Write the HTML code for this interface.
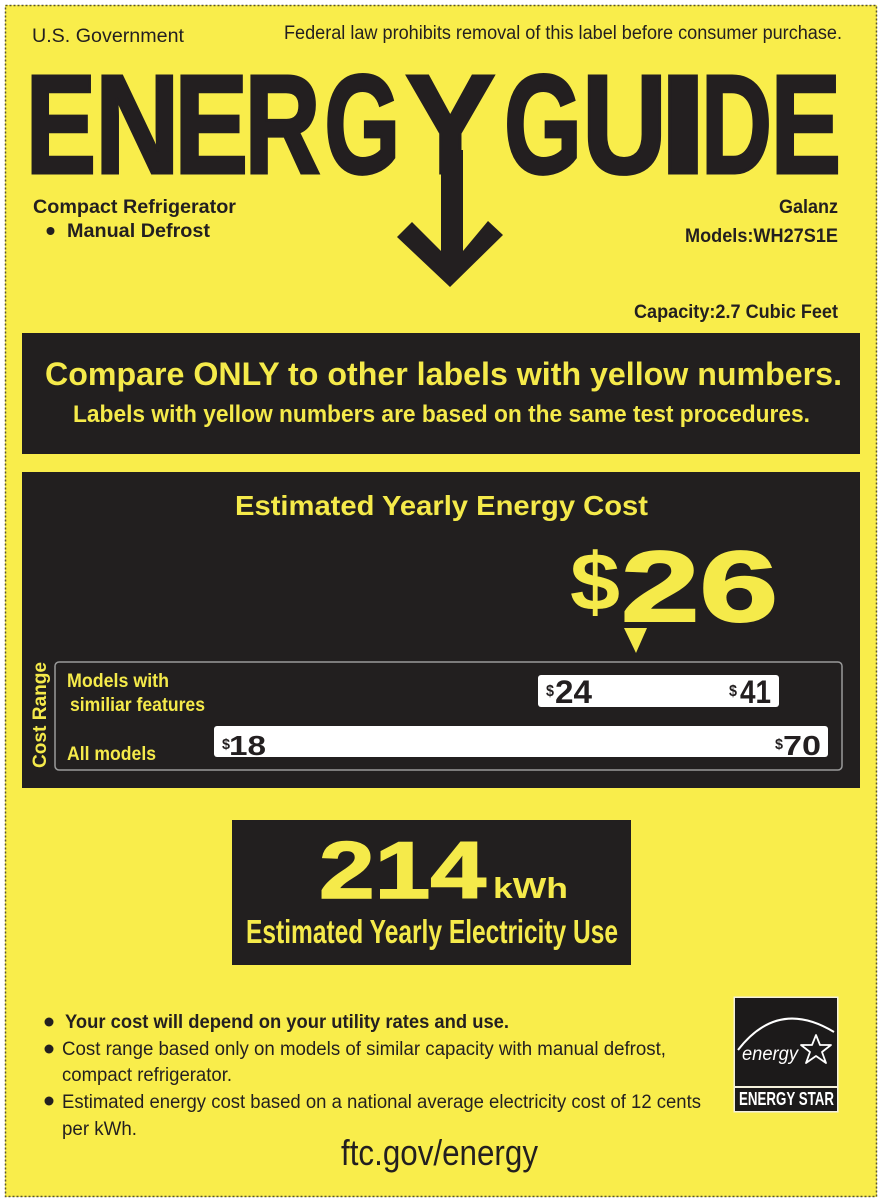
<!DOCTYPE html>
<html>
<head>
<meta charset="utf-8">
<style>
html,body{margin:0;padding:0;background:#ffffff;}
svg{display:block;}
text{font-family:"Liberation Sans", Arial, sans-serif;}
</style>
</head>
<body>
<svg width="882" height="1204" viewBox="0 0 882 1204" xmlns="http://www.w3.org/2000/svg">
  <!-- background -->
  <rect x="0" y="0" width="882" height="1204" fill="#ffffff"/>
  <rect x="5" y="5" width="872" height="1192" fill="#f9ed4b"/>
  <rect x="5.5" y="5.5" width="871" height="1191" fill="none" stroke="#5a5530" stroke-width="1.5" stroke-dasharray="2 2"/>

  <!-- header -->
  <text x="32" y="42" font-size="19" fill="#231f20" textLength="152" lengthAdjust="spacingAndGlyphs">U.S. Government</text>
  <text x="284" y="39" font-size="19" fill="#231f20" textLength="558" lengthAdjust="spacingAndGlyphs">Federal law prohibits removal of this label before consumer purchase.</text>

  <!-- ENERGYGUIDE -->
  <g font-size="141" font-weight="bold" fill="#231f20" stroke="#231f20" stroke-width="3" stroke-linejoin="miter">
    <text x="25.6" y="173" textLength="70.5" lengthAdjust="spacingAndGlyphs">E</text>
    <text x="94.8" y="173" textLength="85" lengthAdjust="spacingAndGlyphs">N</text>
    <text x="174.2" y="173" textLength="74" lengthAdjust="spacingAndGlyphs">E</text>
    <text x="244.5" y="173" textLength="76" lengthAdjust="spacingAndGlyphs">R</text>
    <text x="324.3" y="173" textLength="76" lengthAdjust="spacingAndGlyphs">G</text>
    <text x="405.3" y="173" textLength="90" lengthAdjust="spacingAndGlyphs">Y</text>
    <text x="504" y="173" textLength="78" lengthAdjust="spacingAndGlyphs">G</text>
    <text x="582" y="173" textLength="85" lengthAdjust="spacingAndGlyphs">U</text>
    <text x="658" y="173" textLength="50" lengthAdjust="spacingAndGlyphs">I</text>
    <text x="701" y="173" textLength="71" lengthAdjust="spacingAndGlyphs">D</text>
    <text x="770.6" y="173" textLength="70.5" lengthAdjust="spacingAndGlyphs">E</text>
  </g>
  <!-- arrow -->
  <polygon points="441,150 441,251 412,222 397,237 450,287 503,235 488,221 463,251 463,150" fill="#231f20"/>

  <!-- product info -->
  <g font-size="19.5" font-weight="bold" fill="#231f20">
    <text x="33" y="213" textLength="203" lengthAdjust="spacingAndGlyphs">Compact Refrigerator</text>
    <text x="67" y="237" textLength="143" lengthAdjust="spacingAndGlyphs">Manual Defrost</text>
    <text x="779" y="213" textLength="59" lengthAdjust="spacingAndGlyphs">Galanz</text>
    <text x="685" y="242" textLength="153" lengthAdjust="spacingAndGlyphs">Models:WH27S1E</text>
    <text x="634" y="318" textLength="204" lengthAdjust="spacingAndGlyphs">Capacity:2.7 Cubic Feet</text>
  </g>
  <circle cx="50.5" cy="231" r="4" fill="#231f20"/>

  <!-- box 1 -->
  <rect x="22" y="333" width="838" height="121" fill="#221f1f"/>
  <text x="45" y="385" font-size="32" font-weight="bold" fill="#f5ea4a" textLength="797" lengthAdjust="spacingAndGlyphs">Compare ONLY to other labels with yellow numbers.</text>
  <text x="73" y="422" font-size="24" font-weight="bold" fill="#f5ea4a" textLength="737" lengthAdjust="spacingAndGlyphs">Labels with yellow numbers are based on the same test procedures.</text>

  <!-- box 2 -->
  <rect x="22" y="472" width="838" height="316" fill="#221f1f"/>
  <text x="235" y="515" font-size="28" font-weight="bold" fill="#f5ea4a" textLength="413" lengthAdjust="spacingAndGlyphs">Estimated Yearly Energy Cost</text>
  <text x="570" y="610" font-size="82" font-weight="bold" fill="#f5ea4a" textLength="50" lengthAdjust="spacingAndGlyphs">$</text>
  <text x="621" y="621" font-size="100" font-weight="bold" fill="#f5ea4a" stroke="#f5ea4a" stroke-width="2" textLength="157" lengthAdjust="spacingAndGlyphs">26</text>
  <polygon points="624,628 647,628 636,653" fill="#f5ea4a"/>

  <!-- cost range -->
  <rect x="55" y="662" width="787" height="108" rx="4" fill="#221f1f" stroke="#9a9a9a" stroke-width="1.5"/>
  <text transform="translate(46,768) rotate(-90)" x="0" y="0" font-size="19" font-weight="bold" fill="#f5ea4a" textLength="106" lengthAdjust="spacingAndGlyphs">Cost Range</text>
  <g font-size="19.5" font-weight="bold" fill="#f5ea4a">
    <text x="67" y="687" textLength="102" lengthAdjust="spacingAndGlyphs">Models with</text>
    <text x="70" y="711" textLength="135" lengthAdjust="spacingAndGlyphs">similiar features</text>
    <text x="67" y="760" textLength="89" lengthAdjust="spacingAndGlyphs">All models</text>
  </g>
  <rect x="538" y="675" width="241" height="32" rx="3" fill="#ffffff"/>
  <g font-weight="bold" fill="#231f20">
    <text x="546" y="696" font-size="16" textLength="8" lengthAdjust="spacingAndGlyphs">$</text>
    <text x="555" y="703" font-size="32" textLength="37" lengthAdjust="spacingAndGlyphs">24</text>
    <text x="729" y="696" font-size="16" textLength="8" lengthAdjust="spacingAndGlyphs">$</text>
    <text x="740" y="703" font-size="32" textLength="31" lengthAdjust="spacingAndGlyphs">41</text>
  </g>
  <rect x="214" y="726" width="614" height="31" rx="3" fill="#ffffff"/>
  <g font-weight="bold" fill="#231f20">
    <text x="222" y="749" font-size="15" textLength="8" lengthAdjust="spacingAndGlyphs">$</text>
    <text x="229" y="755" font-size="28" textLength="37" lengthAdjust="spacingAndGlyphs">18</text>
    <text x="775" y="749" font-size="15" textLength="8" lengthAdjust="spacingAndGlyphs">$</text>
    <text x="783" y="755" font-size="28" textLength="38" lengthAdjust="spacingAndGlyphs">70</text>
  </g>

  <!-- box 3 -->
  <rect x="232" y="820" width="399" height="145" fill="#221f1f"/>
  <text x="319" y="898" font-size="81" font-weight="bold" fill="#f5ea4a" stroke="#f5ea4a" stroke-width="1.5" textLength="167" lengthAdjust="spacingAndGlyphs">214</text>
  <text x="493" y="898" font-size="29" font-weight="bold" fill="#f5ea4a" textLength="75" lengthAdjust="spacingAndGlyphs">kWh</text>
  <text x="246" y="943" font-size="33" font-weight="bold" fill="#f5ea4a" textLength="372" lengthAdjust="spacingAndGlyphs">Estimated Yearly Electricity Use</text>

  <!-- bullets -->
  <circle cx="49" cy="1022" r="4.5" fill="#231f20"/>
  <circle cx="49" cy="1049" r="4.5" fill="#231f20"/>
  <circle cx="49" cy="1101" r="4.5" fill="#231f20"/>
  <text x="65" y="1028" font-size="19" font-weight="bold" fill="#231f20" textLength="444" lengthAdjust="spacingAndGlyphs">Your cost will depend on your utility rates and use.</text>
  <g font-size="19" fill="#231f20">
    <text x="62" y="1055" textLength="604" lengthAdjust="spacingAndGlyphs">Cost range based only on models of similar capacity with manual defrost,</text>
    <text x="62" y="1081" textLength="170" lengthAdjust="spacingAndGlyphs">compact refrigerator.</text>
    <text x="62" y="1108" textLength="639" lengthAdjust="spacingAndGlyphs">Estimated energy cost based on a national average electricity cost of 12 cents</text>
    <text x="62" y="1135" textLength="75" lengthAdjust="spacingAndGlyphs">per kWh.</text>
  </g>
  <text x="341" y="1165" font-size="36" fill="#231f20" textLength="197" lengthAdjust="spacingAndGlyphs">ftc.gov/energy</text>

  <!-- energy star logo -->
  <rect x="733.5" y="996.5" width="105" height="116" fill="#f4f0dc"/>
  <rect x="735" y="998" width="102" height="88" fill="#1c1a1a"/>
  <rect x="735" y="1088" width="102" height="23" fill="#1c1a1a"/>
  <path d="M738,1050 Q778,998 834,1032" fill="none" stroke="#ffffff" stroke-width="2"/>
  <text x="742" y="1060" font-family="'Liberation Serif', serif" font-style="italic" font-size="19" fill="#ffffff" textLength="56" lengthAdjust="spacingAndGlyphs">energy</text>
  <polygon points="816,1035 820,1045 831,1045 822,1052 826,1063 816,1056 806,1063 810,1052 801,1045 812,1045" fill="none" stroke="#ffffff" stroke-width="1.8" stroke-linejoin="round"/>
  <text x="739" y="1105" font-size="18" font-weight="bold" fill="#ffffff" textLength="95" lengthAdjust="spacingAndGlyphs">ENERGY STAR</text>
</svg>
</body>
</html>
